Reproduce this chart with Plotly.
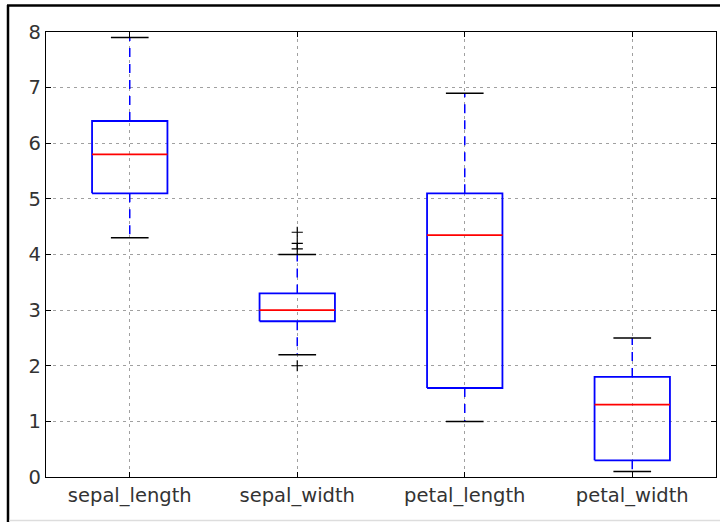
import plotly.graph_objects as go

categories = ["sepal_length", "sepal_width", "petal_length", "petal_width"]
q1 = [5.1, 2.8, 1.6, 0.3]
median = [5.8, 3.0, 4.35, 1.3]
q3 = [6.4, 3.3, 5.1, 1.8]
lower_whisker = [4.3, 2.2, 1.0, 0.1]
upper_whisker = [7.9, 4.0, 6.9, 2.5]
outliers = [[], [4.1, 4.2, 4.4, 2.0], [], []]

positions = list(range(1, len(categories) + 1))
BOX_W = 0.45
CAP_W = BOX_W / 2

bx, by, mx, my, wx, wy, cx, cy, ox, oy = [], [], [], [], [], [], [], [], [], []
for p, a, m, b, lo, hi, outs in zip(positions, q1, median, q3, lower_whisker, upper_whisker, outliers):
    l, r = p - BOX_W / 2, p + BOX_W / 2
    bx += [l, r, r, l, l, None]
    by += [a, a, b, b, a, None]
    mx += [l, r, None]
    my += [m, m, None]
    wx += [p, p, None, p, p, None]
    wy += [a, lo, None, b, hi, None]
    cl, cr = p - CAP_W / 2, p + CAP_W / 2
    cx += [cl, cr, None, cl, cr, None]
    cy += [lo, lo, None, hi, hi, None]
    for o in outs:
        ox.append(p)
        oy.append(o)

fig = go.Figure()
fig.add_trace(go.Scatter(x=wx, y=wy, mode="lines",
                         line=dict(color="#0000ff", width=1.5, dash="9px,7px"),
                         hoverinfo="skip", showlegend=False))
fig.add_trace(go.Scatter(x=cx, y=cy, mode="lines",
                         line=dict(color="black", width=1.5),
                         hoverinfo="skip", showlegend=False))
fig.add_trace(go.Scatter(x=bx, y=by, mode="lines",
                         line=dict(color="#0000ff", width=1.8),
                         hoverinfo="skip", showlegend=False))
fig.add_trace(go.Scatter(x=mx, y=my, mode="lines",
                         line=dict(color="#ff0000", width=1.8),
                         hoverinfo="skip", showlegend=False))
fig.add_trace(go.Scatter(x=ox, y=oy, mode="markers",
                         marker=dict(symbol="cross-thin", size=8,
                                     line=dict(color="black", width=1.2)),
                         hoverinfo="skip", showlegend=False))

axis_common = dict(
    showline=True, linecolor="black", linewidth=1.2, mirror="ticks",
    ticks="inside", ticklen=5, tickcolor="black", tickwidth=1,
    showgrid=True, gridcolor="#a0a0a0", gridwidth=1, griddash="3px,4px",
    zeroline=False,
    tickfont=dict(family="DejaVu Sans", size=19.5, color="#333333"),
)

fig.update_xaxes(range=[0.5, 4.5], tickvals=positions, ticktext=categories, **axis_common)
fig.update_yaxes(range=[0, 8], tickvals=list(range(0, 9)), **axis_common)

fig.update_layout(
    width=720, height=522,
    margin=dict(l=46, r=4, t=32, b=45),
    paper_bgcolor="white", plot_bgcolor="white",
    showlegend=False,
)

# notebook-style outer frame (top and left black borders, light bottom line)
fig.add_shape(type="line", xref="paper", yref="paper",
              x0=(7 - 46) / 670, x1=(720 - 46) / 670,
              y0=(477 - 5.5) / 445, y1=(477 - 5.5) / 445,
              line=dict(color="black", width=2.5))
fig.add_shape(type="line", xref="paper", yref="paper",
              x0=(8 - 46) / 670, x1=(8 - 46) / 670,
              y0=(477 - 522) / 445, y1=(477 - 5) / 445,
              line=dict(color="black", width=2.5))
fig.add_shape(type="line", xref="paper", yref="paper",
              x0=(9 - 46) / 670, x1=(720 - 46) / 670,
              y0=(477 - 520.5) / 445, y1=(477 - 520.5) / 445,
              line=dict(color="#dddddd", width=1.5))

fig.write_html("out.html", config={"displayModeBar": False},
               post_script="document.body.style.margin='0';document.body.style.overflow='hidden';")
